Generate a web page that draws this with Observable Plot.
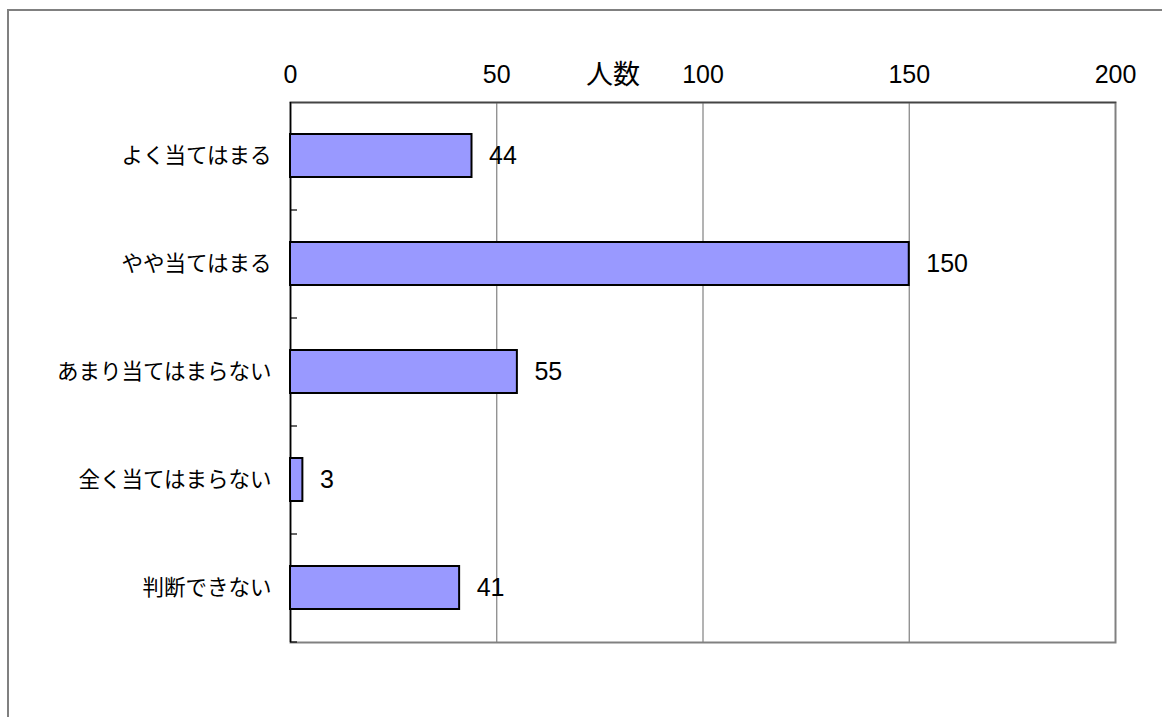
<!DOCTYPE html>
<html><head><meta charset="utf-8">
<script src="https://cdn.jsdelivr.net/npm/d3@7"></script>
<script src="https://cdn.jsdelivr.net/npm/@observablehq/plot@0.6"></script>
<style>
html,body{margin:0;padding:0;background:#fff;overflow:hidden;width:1162px;height:717px;}
#wrap{position:relative;width:1162px;height:717px;}
#border{position:absolute;left:7px;top:9px;width:1200px;height:800px;border:2px solid #808080;box-sizing:border-box;}
#chart{position:absolute;left:0;top:0;}
</style></head><body>
<div id="wrap"><div id="border"></div><div id="chart"></div></div>
<script>
const categories = ["よく当てはまる","やや当てはまる","あまり当てはまらない","全く当てはまらない","判断できない"];
const counts = [44,150,55,3,41];
const xTicks = [0,50,100,150,200];
const gridValues = [50,100,150];
const axisTitle = "人数";
const data = categories.map((c,i)=>({category:c, count:counts[i]}));

const chart = Plot.plot({
  width:1162, height:717,
  marginLeft:290, marginRight:47, marginTop:102, marginBottom:75,
  style:{fontFamily:'"Liberation Sans","Noto Sans CJK JP",sans-serif', background:"transparent", color:"#000"},
  x:{domain:[0,200]},
  y:{domain:categories, paddingInner:0.6, paddingOuter:0.3},
  marks:[
    Plot.ruleX(gridValues, {stroke:"#808080", strokeWidth:1.2}),
    Plot.frame({stroke:"#808080", strokeWidth:2}),
    Plot.frame({anchor:"top", stroke:"#444", strokeWidth:1.5}),
    Plot.ruleX([0], {stroke:"#000", strokeWidth:1.5}),
    Plot.ruleY(categories, {y:d=>d, x1:0, x2:0, insetRight:-7, dy:54, stroke:"#000", strokeWidth:1.2}),
    Plot.barX(data, {x:"count", y:"category", fill:"#9999ff", stroke:"#000", strokeWidth:2}),
    Plot.text(data, {x:"count", y:"category", text:d=>String(d.count), textAnchor:"start", dx:17, fontSize:25, fill:"#000"}),
    Plot.axisX({anchor:"top", ticks:xTicks, tickSize:0, tickPadding:20, fontSize:25, label:null}),
    Plot.axisY({tickSize:0, tickPadding:19, fontSize:21.5, label:null}),
    Plot.text([axisTitle], {frameAnchor:"top", dx:-90, dy:-38, fontSize:27, fill:"#000"})
  ]
});
document.getElementById("chart").appendChild(chart);
</script>
</body></html>
